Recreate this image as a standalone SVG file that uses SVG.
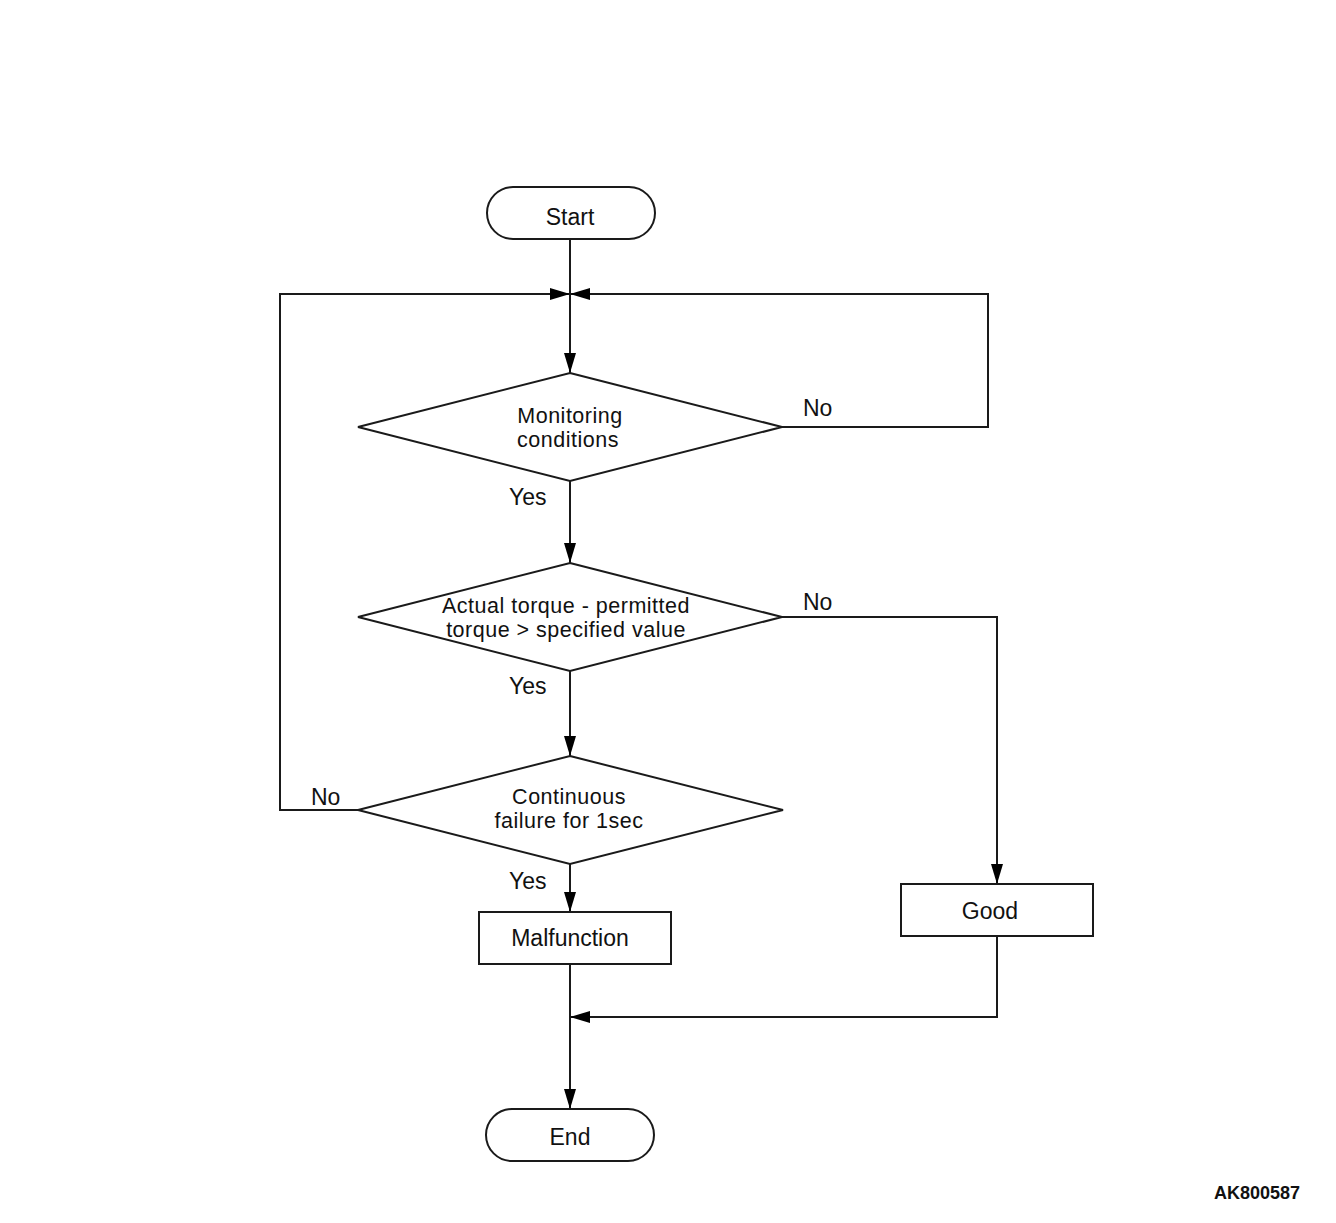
<svg xmlns="http://www.w3.org/2000/svg" width="1336" height="1223" viewBox="0 0 1336 1223">
<style>
.s{fill:#fff;stroke:#1a1a1a;stroke-width:2}
.c{fill:none;stroke:#1a1a1a;stroke-width:2}
text{font-family:"Liberation Sans",Arial,sans-serif;font-size:23px;fill:#111}
.m{text-anchor:middle}
.t{font-size:21.5px;letter-spacing:0.5px}
.b{font-weight:bold;font-size:18px}
</style>
<defs>
<marker id="a" markerWidth="20" markerHeight="12" refX="20" refY="6" orient="auto" markerUnits="userSpaceOnUse">
<path d="M0,0 L20,6 L0,12 Z" fill="#000"/>
</marker>
</defs>
<rect width="1336" height="1223" fill="#fff"/>
<g id="connectors">
<line class="c" x1="570" y1="239" x2="570" y2="373" marker-end="url(#a)"/>
<polyline class="c" points="358,810 280,810 280,294 570,294" marker-end="url(#a)"/>
<polyline class="c" points="782,427 988,427 988,294 570,294" marker-end="url(#a)"/>
<line class="c" x1="570" y1="481" x2="570" y2="563" marker-end="url(#a)"/>
<polyline class="c" points="782,617 997,617 997,884" marker-end="url(#a)"/>
<line class="c" x1="570" y1="671" x2="570" y2="756" marker-end="url(#a)"/>
<line class="c" x1="570" y1="864" x2="570" y2="912" marker-end="url(#a)"/>
<line class="c" x1="570" y1="964" x2="570" y2="1109" marker-end="url(#a)"/>
<polyline class="c" points="997,936 997,1017 570,1017" marker-end="url(#a)"/>
<text x="803" y="416">No</text>
<text x="509" y="505">Yes</text>
<text x="803" y="610">No</text>
<text x="509" y="694">Yes</text>
<text x="311" y="805">No</text>
<text x="509" y="889">Yes</text>
</g>
<g id="start">
<rect class="s" x="487" y="187" width="168" height="52" rx="26"/>
<text class="m" x="570" y="225">Start</text>
</g>
<g id="monitoring">
<polygon class="s" points="570,373 782,427 570,481 358,427"/>
<text class="m t" x="570" y="423">Monitoring</text>
<text class="m t" x="568" y="447">conditions</text>
</g>
<g id="torque">
<polygon class="s" points="570,563 782,617 570,671 358,617"/>
<text class="m t" x="566" y="613">Actual torque - permitted</text>
<text class="m t" x="566" y="637">torque &gt; specified value</text>
</g>
<g id="continuous">
<polygon class="s" points="570,756 783,810 570,864 358,810"/>
<text class="m t" x="569" y="804">Continuous</text>
<text class="m t" x="569" y="828">failure for 1sec</text>
</g>
<g id="malfunction">
<rect class="s" x="479" y="912" width="192" height="52"/>
<text class="m" x="570" y="946">Malfunction</text>
</g>
<g id="good">
<rect class="s" x="901" y="884" width="192" height="52"/>
<text class="m" x="990" y="919">Good</text>
</g>
<g id="end">
<rect class="s" x="486" y="1109" width="168" height="52" rx="26"/>
<text class="m" x="570" y="1145">End</text>
</g>
<text class="b" x="1214" y="1199">AK800587</text>
</svg>
